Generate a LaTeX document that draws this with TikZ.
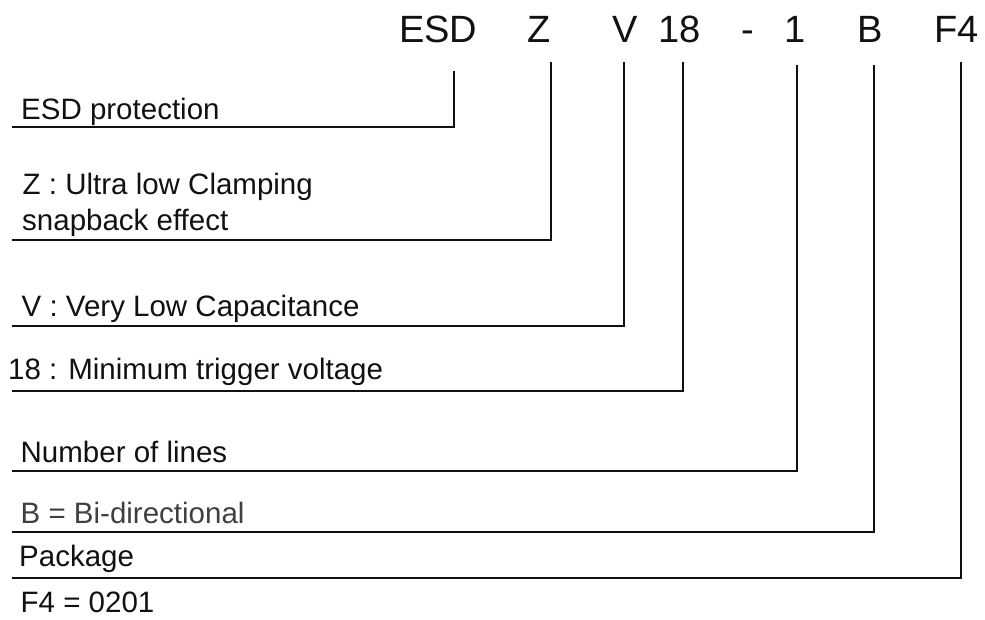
\documentclass[tikz,border=0pt]{standalone}
\usepackage{fontspec}
\setmainfont{Liberation Sans}
\definecolor{ink}{HTML}{111111}
\definecolor{greyink}{HTML}{404040}
\begin{document}
\begin{tikzpicture}[x=1pt,y=-1pt,
  head/.style={anchor=base west,inner sep=0pt,font=\fontsize{38}{44}\selectfont,text=ink},
  lbl/.style={anchor=base west,inner sep=0pt,font=\fontsize{29.5}{35}\selectfont,text=ink},
  lead/.style={draw=ink,line width=1.6pt,line join=miter}]
\useasboundingbox (0,0) rectangle (985,619);
% header
\node[head] (hESD) at (399,42) {ESD};
\node[head] (hZ) at (527,42) {Z};
\node[head] (hV) at (612,42) {V};
\node[head] (h18) at (658,42) {18};
\node[head] (hdash) at (741,42) {-};
\node[head] (h1) at (784,42) {1};
\node[head] (hB) at (857,42) {B};
\node[head] (hF) at (934,42) {F4};
% labels
\node[lbl] (lESD) at (21,119) {ESD protection};
\node[lbl] (lZa) at (22.5,194) {Z : Ultra low Clamping};
\node[lbl] (lZb) at (22,230) {snapback effect};
\node[lbl] (lV) at (21.5,316) {V : Very Low Capacitance};
\node[lbl] (l18) at (8,379) {18 : Minimum trigger voltage};
\node[lbl] (l1) at (20.5,462) {Number of lines};
\node[lbl,text=greyink] (lB) at (20.5,523) {B = Bi-directional};
\node[lbl] (lP) at (19,566) {Package};
\node[lbl] (lF) at (20.5,612) {F4 = 0201};
% connector ends
\coordinate (tESD) at (454,71);  \coordinate (eESD) at (12,127);
\coordinate (tZ) at (551,62);    \coordinate (eZ) at (12,240);
\coordinate (tV) at (624,62);    \coordinate (eV) at (12,326);
\coordinate (t18) at (683,62);   \coordinate (e18) at (12,391);
\coordinate (t1) at (797,65);    \coordinate (e1) at (12,471);
\coordinate (tB) at (874,65);    \coordinate (eB) at (12,532);
\coordinate (tF) at (961,62);    \coordinate (eF) at (12,578);
% connectors
\draw[lead] (tESD) |- (eESD);
\draw[lead] (tZ) |- (eZ);
\draw[lead] (tV) |- (eV);
\draw[lead] (t18) |- (e18);
\draw[lead] (t1) |- (e1);
\draw[lead] (tB) |- (eB);
\draw[lead] (tF) |- (eF);
\end{tikzpicture}
\end{document}
